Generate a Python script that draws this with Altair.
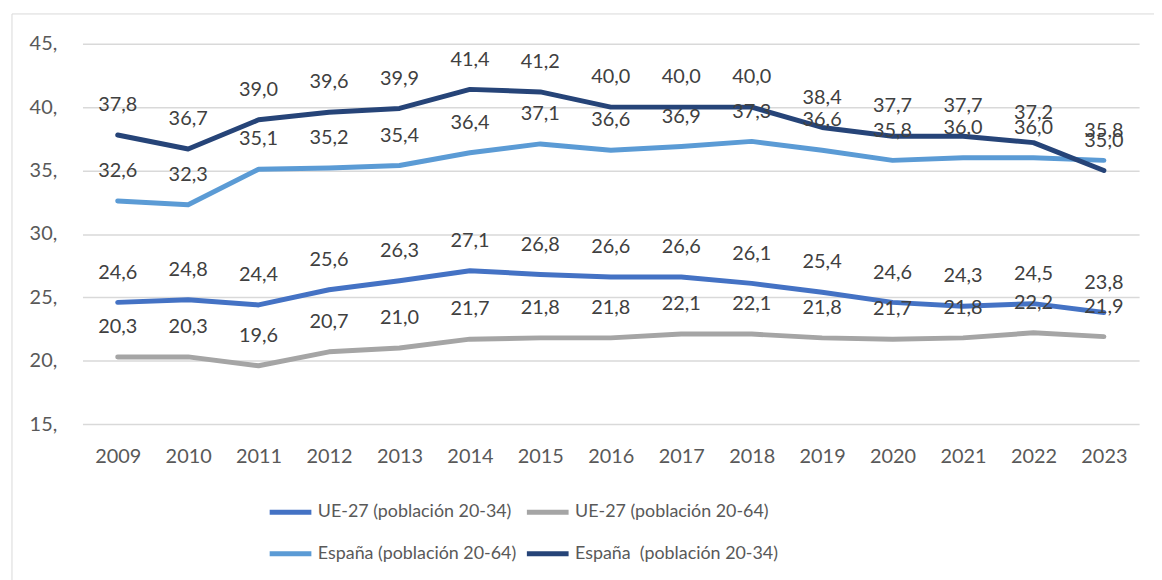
import altair as alt
import pandas as pd

years = [str(y) for y in range(2009, 2024)]
ue_20_34 = [24.6, 24.8, 24.4, 25.6, 26.3, 27.1, 26.8, 26.6, 26.6, 26.1, 25.4, 24.6, 24.3, 24.5, 23.8]
ue_20_64 = [20.3, 20.3, 19.6, 20.7, 21.0, 21.7, 21.8, 21.8, 22.1, 22.1, 21.8, 21.7, 21.8, 22.2, 21.9]
es_20_64 = [32.6, 32.3, 35.1, 35.2, 35.4, 36.4, 37.1, 36.6, 36.9, 37.3, 36.6, 35.8, 36.0, 36.0, 35.8]
es_20_34 = [37.8, 36.7, 39.0, 39.6, 39.9, 41.4, 41.2, 40.0, 40.0, 40.0, 38.4, 37.7, 37.7, 37.2, 35.0]

series_names = [
    "UE-27 (población 20-34)",
    "UE-27 (población 20-64)",
    "España (población 20-64)",
    "España\u00a0 (población 20-34)",
]
series_values = [ue_20_34, ue_20_64, es_20_64, es_20_34]
series_colors = ["#4472C4", "#A5A5A5", "#5B9BD5", "#264478"]
y_ticks = [15, 20, 25, 30, 35, 40, 45]

rows = []
for order, (name, vals) in enumerate(zip(series_names, series_values)):
    for yr, v in zip(years, vals):
        rows.append({"year": yr, "value": v, "serie": name, "order": order})
df = pd.DataFrame(rows)

FONT = "Lato"

x_enc = alt.X("year:N", title=None, sort=years,
              scale=alt.Scale(type="point", padding=0.5),
              axis=alt.Axis(labelAngle=0, ticks=False, domain=False, grid=False,
                            labelFontSize=20, labelColor="#595959", labelPadding=23,
                            labelFont=FONT))
y_enc = alt.Y("value:Q", title=None,
              scale=alt.Scale(domain=[15, 45], nice=False, zero=False),
              axis=alt.Axis(values=y_ticks, ticks=False, domain=False, grid=True,
                            gridColor="#D9D9D9", gridWidth=1.5,
                            labelExpr="datum.value + ','",
                            labelFontSize=20, labelColor="#595959", labelPadding=26,
                            labelFont=FONT))

color_enc = alt.Color("serie:N", title=None,
                      scale=alt.Scale(domain=series_names, range=series_colors),
                      legend=alt.Legend(orient="none", legendX=186, legendY=448,
                                        columns=2, direction="horizontal",
                                        symbolType="stroke", symbolSize=1764,
                                        symbolStrokeWidth=5, labelFontSize=18,
                                        labelColor="#595959", labelFont=FONT,
                                        labelLimit=0,
                                        labelOffset=4, columnPadding=0,
                                        rowPadding=8, padding=0))

lines = alt.Chart(df).mark_line(strokeWidth=5, strokeCap="round", strokeJoin="round").encode(
    x=x_enc, y=y_enc, color=color_enc, order=alt.Order("order:Q"),
    detail="order:Q",
)

labels = alt.Chart(df).transform_calculate(
    lbl="replace(format(datum.value, '.1f'), '.', ',')"
).mark_text(dy=-30, fontSize=20, color="#404040", font=FONT, baseline="middle").encode(
    x=alt.X("year:N", sort=years), y=alt.Y("value:Q"), text="lbl:N"
)

border_df = pd.DataFrame({"k": [0]})
left_border = alt.Chart(border_df).mark_rule(color="#D9D9D9", strokeWidth=1).encode(
    x=alt.value(-71), y=alt.value(-30), y2=alt.value(700))
top_border = alt.Chart(border_df).mark_rule(color="#D9D9D9", strokeWidth=1).encode(
    x=alt.value(-71), x2=alt.value(1200), y=alt.value(-30))

chart = alt.layer(left_border, top_border, lines, labels).properties(
    width=1064, height=383,
    padding={"left": 75, "top": 34, "right": 15, "bottom": 155},
    autosize=alt.AutoSizeParams(type="none"),
    background="white",
).configure_view(stroke=None)

chart.save("out.html", embed_options={"renderer": "svg", "actions": False})
